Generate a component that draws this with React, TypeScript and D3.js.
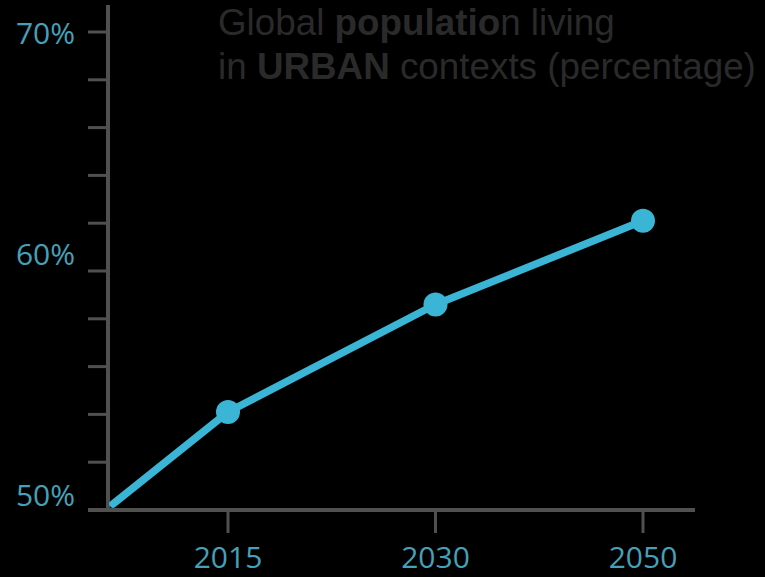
import React from "react";
import * as d3 from "d3";

const years = ["2015", "2030", "2050"];
const urbanShare = [54.1, 58.6, 62.1];
const originShare = 50.25;
const yTickValues = [50, 52, 54, 56, 58, 60, 62, 64, 66, 68, 70];
const yLabelValues = [70, 60, 50];
const titleLine1 = [
  { text: "Global ", bold: false },
  { text: "populatio", bold: true },
  { text: "n living", bold: false },
];
const titleLine2 = [
  { text: "in ", bold: false },
  { text: "URBAN", bold: true },
  { text: " contexts (percentage)", bold: false },
];

const W = 765;
const H = 577;
const axisX = 108;
const axisY = 510;
const LINE_COLOR = "#3bb5d6";
const LABEL_COLOR = "#45a0b9";
const AXIS_COLOR = "#505050";
const labelNudge: Record<number, number> = { 70: 12, 60: -6, 50: -4 };

export default function App() {
  const y = d3.scaleLinear().domain([50, 70]).range([axisY, 32]);
  const x = d3.scalePoint<string>().domain(years).range([228, 643]);

  const pts: [number, number][] = [
    [axisX + 5, y(originShare)],
    ...years.map((yr, i) => [x(yr) as number, y(urbanShare[i])] as [number, number]),
  ];
  const line = d3.line();

  return (
    <div style={{ position: "fixed", left: 0, top: 0, width: W, height: H, background: "#000" }}>
      <svg width={W} height={H} style={{ display: "block", background: "#000" }}>
        {/* title */}
        <text x={218} y={35} fontFamily="'Liberation Sans', Arial, sans-serif" fontSize={36.8} fill="#2a2a2a">
          {titleLine1.map((s, i) => (
            <tspan key={i} fontWeight={s.bold ? "bold" : "normal"}>{s.text}</tspan>
          ))}
        </text>
        <text x={218} y={79} fontFamily="'Liberation Sans', Arial, sans-serif" fontSize={36.8} fill="#2a2a2a">
          {titleLine2.map((s, i) => (
            <tspan key={i} fontWeight={s.bold ? "bold" : "normal"}>{s.text}</tspan>
          ))}
        </text>

        {/* y ticks */}
        {yTickValues.map((v) => (
          <line key={v} x1={88} x2={axisX} y1={y(v)} y2={y(v)} stroke={AXIS_COLOR} strokeWidth={3} />
        ))}
        {/* y axis */}
        <line x1={axisX} x2={axisX} y1={5} y2={axisY + 2} stroke={AXIS_COLOR} strokeWidth={4} />
        {/* x axis */}
        <line x1={88} x2={695} y1={axisY} y2={axisY} stroke={AXIS_COLOR} strokeWidth={4} />
        {/* x ticks */}
        {years.map((yr) => (
          <line key={yr} x1={x(yr)} x2={x(yr)} y1={axisY} y2={533} stroke={AXIS_COLOR} strokeWidth={3} />
        ))}

        {/* y labels */}
        {yLabelValues.map((v) => (
          <text
            key={v}
            x={75}
            y={y(v) + labelNudge[v]}
            textAnchor="end"
            fontFamily="'Open Sans', sans-serif"
            fontSize={30}
            fill={LABEL_COLOR}
          >
            {v}%
          </text>
        ))}
        {/* x labels */}
        {years.map((yr) => (
          <text
            key={yr}
            x={x(yr)}
            y={568}
            textAnchor="middle"
            fontFamily="'Open Sans', sans-serif"
            fontSize={30}
            fill={LABEL_COLOR}
          >
            {yr}
          </text>
        ))}

        {/* line */}
        <path d={line(pts) || ""} fill="none" stroke={LINE_COLOR} strokeWidth={7.5} strokeLinecap="round" strokeLinejoin="round" />
        {pts.slice(1).map((p, i) => (
          <circle key={i} cx={p[0]} cy={p[1]} r={12} fill={LINE_COLOR} />
        ))}
      </svg>
    </div>
  );
}
